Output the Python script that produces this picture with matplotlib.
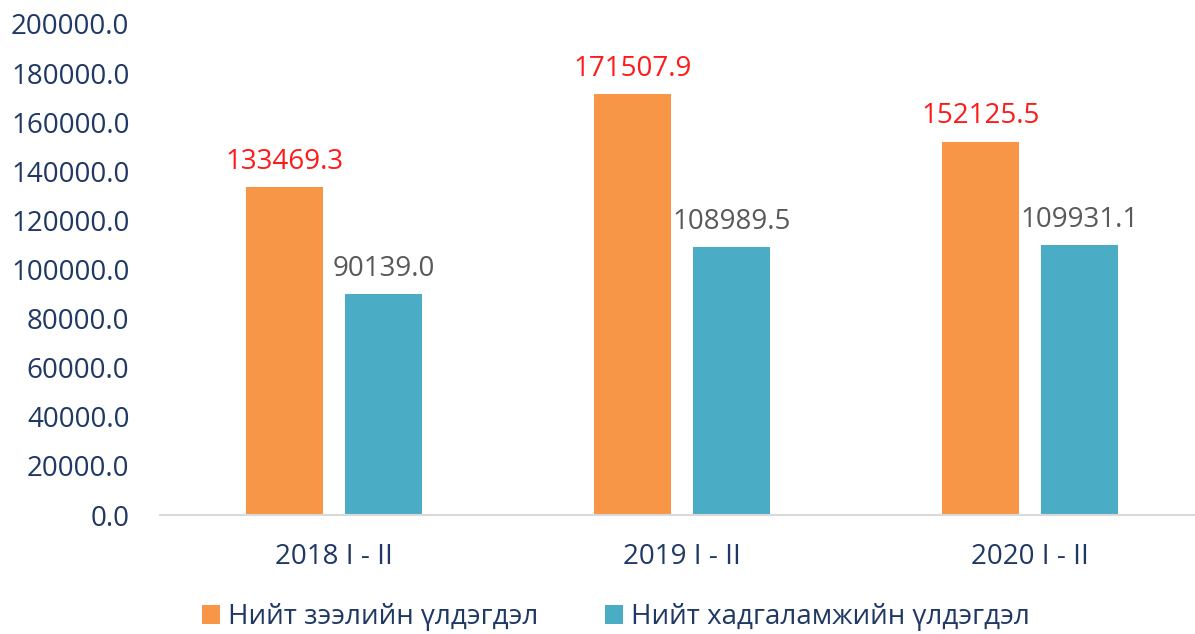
import matplotlib
matplotlib.use("Agg")
import matplotlib.pyplot as plt
import numpy as np

categories = ["2018 I - II", "2019 I - II", "2020 I - II"]
loans = [133469.3, 171507.9, 152125.5]
deposits = [90139.0, 108989.5, 109931.1]
series_names = ["Нийт зээлийн үлдэгдэл", "Нийт хадгаламжийн үлдэгдэл"]
yticks = [0, 20000, 40000, 60000, 80000, 100000, 120000, 140000, 160000, 180000, 200000]

plt.rcParams['font.family'] = ['Open Sans', 'DejaVu Sans']

navy = "#1F3864"
orange = "#F79646"
teal = "#4BACC6"

fig = plt.figure(figsize=(11.95, 6.34), dpi=100)
ax = fig.add_axes([160/1195, (634-515)/634, 1 - 160/1195, (515-24)/634])

x = np.arange(len(categories))
w = 0.221
off = 0.142
b1 = ax.bar(x - off, loans, w, color=orange, label=series_names[0])
b2 = ax.bar(x + off, deposits, w, color=teal, label=series_names[1])

for rect, v in zip(b1, loans):
    ax.annotate(f"{v:.1f}", (rect.get_x() + rect.get_width()/2, v), xytext=(0, 8),
                textcoords="offset points", ha="center", va="bottom",
                fontsize=20, color="#FF1A1A")
for rect, v in zip(b2, deposits):
    ax.annotate(f"{v:.1f}", (rect.get_x() + rect.get_width()/2, v), xytext=(0, 8),
                textcoords="offset points", ha="center", va="bottom",
                fontsize=20, color="#595959")

ax.set_xlim(-0.5, 2.474)
ax.set_ylim(0, 200000)
ax.set_yticks(yticks)
ax.set_yticklabels([f"{t:.1f}" for t in yticks])
ax.set_xticks(x)
ax.set_xticklabels(categories)
ax.tick_params(axis='both', length=0, labelsize=20, labelcolor=navy)
ax.tick_params(axis='x', pad=20)
ax.tick_params(axis='y', pad=22)
for s in ["top", "right", "left"]:
    ax.spines[s].set_visible(False)
ax.spines["bottom"].set_color("#D9D9D9")
ax.spines["bottom"].set_linewidth(1.5)

leg = fig.legend(handles=[b1, b2], labels=series_names, loc="center",
                 bbox_to_anchor=(616/1195, (634-617)/634), ncol=2, frameon=False,
                 fontsize=20, handlelength=0.65, handleheight=0.65,
                 handletextpad=0.3, columnspacing=2.4, labelcolor=navy)

fig.savefig("out.png", dpi=100)
